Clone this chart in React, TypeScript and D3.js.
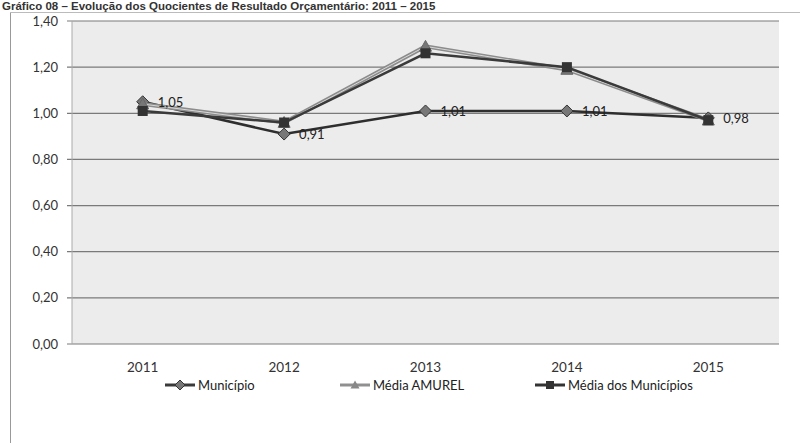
import React from "react";
import * as d3 from "d3";

const years = ["2011", "2012", "2013", "2014", "2015"];
const municipio = [1.05, 0.91, 1.01, 1.01, 0.98];
const mediaAmurel = [1.04, 0.96, 1.29, 1.19, 0.97];
const mediaMunicipios = [1.01, 0.96, 1.26, 1.2, 0.97];
const yTicks = [0, 0.2, 0.4, 0.6, 0.8, 1.0, 1.2, 1.4];
const legendLabels = ["Município", "Média AMUREL", "Média dos Municípios"];
const title = "Gráfico 08 – Evolução dos Quocientes de Resultado Orçamentário: 2011 – 2015";

const W = 810;
const H = 443;
const plot = { left: 72, right: 779, top: 21, bottom: 344 };
const fmt = (v: number) => v.toFixed(2).replace(".", ",");

export default function App() {
  const x = d3.scaleBand<string>().domain(years).range([plot.left, plot.right]);
  const y = d3.scaleLinear().domain([0, 1.4]).range([plot.bottom, plot.top]);
  const cx = (i: number) => (x(years[i]) as number) + x.bandwidth() / 2;
  const line = d3
    .line<number>()
    .x((_, i) => cx(i))
    .y((d) => y(d));

  const font = "Lato, 'Open Sans', sans-serif";
  const diamond = (px: number, py: number, r: number) =>
    `M${px},${py - r}L${px + r},${py}L${px},${py + r}L${px - r},${py}Z`;
  const tri = (px: number, py: number, r: number) =>
    `M${px},${py - r}L${px + r},${py + r * 0.8}L${px - r},${py + r * 0.8}Z`;

  const legendY = 385;
  const legendItems = [
    { x: 165, label: legendLabels[0], color: "#3a3a3a", kind: "d" },
    { x: 340, label: legendLabels[1], color: "#909090", kind: "t" },
    { x: 535, label: legendLabels[2], color: "#333333", kind: "s" },
  ];

  return (
    <svg width={W} height={H} style={{ position: "absolute", left: 0, top: 0, background: "#fff" }}>
      <text x={2} y={10} fontFamily="Arial, 'Liberation Sans', sans-serif" fontSize={11.5} fontWeight="bold" fill="#333">
        {title}
      </text>
      <line x1={10.5} y1={12} x2={10.5} y2={H} stroke="#999" strokeWidth={1} />
      <line x1={10} y1={12.5} x2={800} y2={12.5} stroke="#bbb" strokeWidth={1} />
      <rect x={plot.left} y={plot.top} width={plot.right - plot.left} height={plot.bottom - plot.top} fill="#ececec" />
      {yTicks.map((t) => (
        <g key={t}>
          <line x1={plot.left - 5} x2={plot.right} y1={y(t)} y2={y(t)} stroke="#7a7a7a" strokeWidth={1.2} />
          <text x={plot.left - 14} y={y(t)} dy="0.35em" textAnchor="end" fontFamily={font} fontSize={13} fill="#333">
            {fmt(t)}
          </text>
        </g>
      ))}
      <line x1={plot.left} x2={plot.left} y1={plot.top} y2={plot.bottom} stroke="#aaa" strokeWidth={1} />
      {years.map((yr, i) => (
        <text key={yr} x={cx(i)} y={plot.bottom + 28} textAnchor="middle" fontFamily={font} fontSize={13.5} fill="#333">
          {yr}
        </text>
      ))}

      <path d={line(municipio) || ""} fill="none" stroke="#2e2e2e" strokeWidth={2.5} />
      {municipio.map((v, i) => (
        <path key={i} d={diamond(cx(i), y(v), 6)} fill="#777" stroke="#333" strokeWidth={1} />
      ))}
      <path d={line(mediaAmurel) || ""} fill="none" stroke="#8c8c8c" strokeWidth={4} />
      <path d={line(mediaAmurel) || ""} fill="none" stroke="#d8d8d8" strokeWidth={1} />
      {mediaAmurel.map((v, i) => (
        <path key={i} d={tri(cx(i), y(v), 6)} fill="#777" stroke="#666" strokeWidth={1} />
      ))}
      <path d={line(mediaMunicipios) || ""} fill="none" stroke="#3a3a3a" strokeWidth={2.5} />
      {mediaMunicipios.map((v, i) => (
        <rect key={i} x={cx(i) - 5} y={y(v) - 5} width={10} height={10} fill="#333" />
      ))}

      {municipio.map((v, i) => (
        <text key={i} x={cx(i) + 15} y={y(v) + 5} fontFamily={font} fontSize={13} fill="#222">
          {fmt(v)}
        </text>
      ))}

      {legendItems.map((it) => (
        <g key={it.label}>
          <line x1={it.x} x2={it.x + 30} y1={legendY} y2={legendY} stroke={it.color} strokeWidth={3} />
          {it.kind === "d" && <path d={diamond(it.x + 15, legendY, 5)} fill="#777" stroke="#333" />}
          {it.kind === "t" && <path d={tri(it.x + 15, legendY, 4.5)} fill="#888" />}
          {it.kind === "s" && <rect x={it.x + 11} y={legendY - 4} width={8} height={8} fill="#333" />}
          <text x={it.x + 33} y={legendY} dy="0.35em" fontFamily={font} fontSize={13} fill="#222">
            {it.label}
          </text>
        </g>
      ))}
    </svg>
  );
}
